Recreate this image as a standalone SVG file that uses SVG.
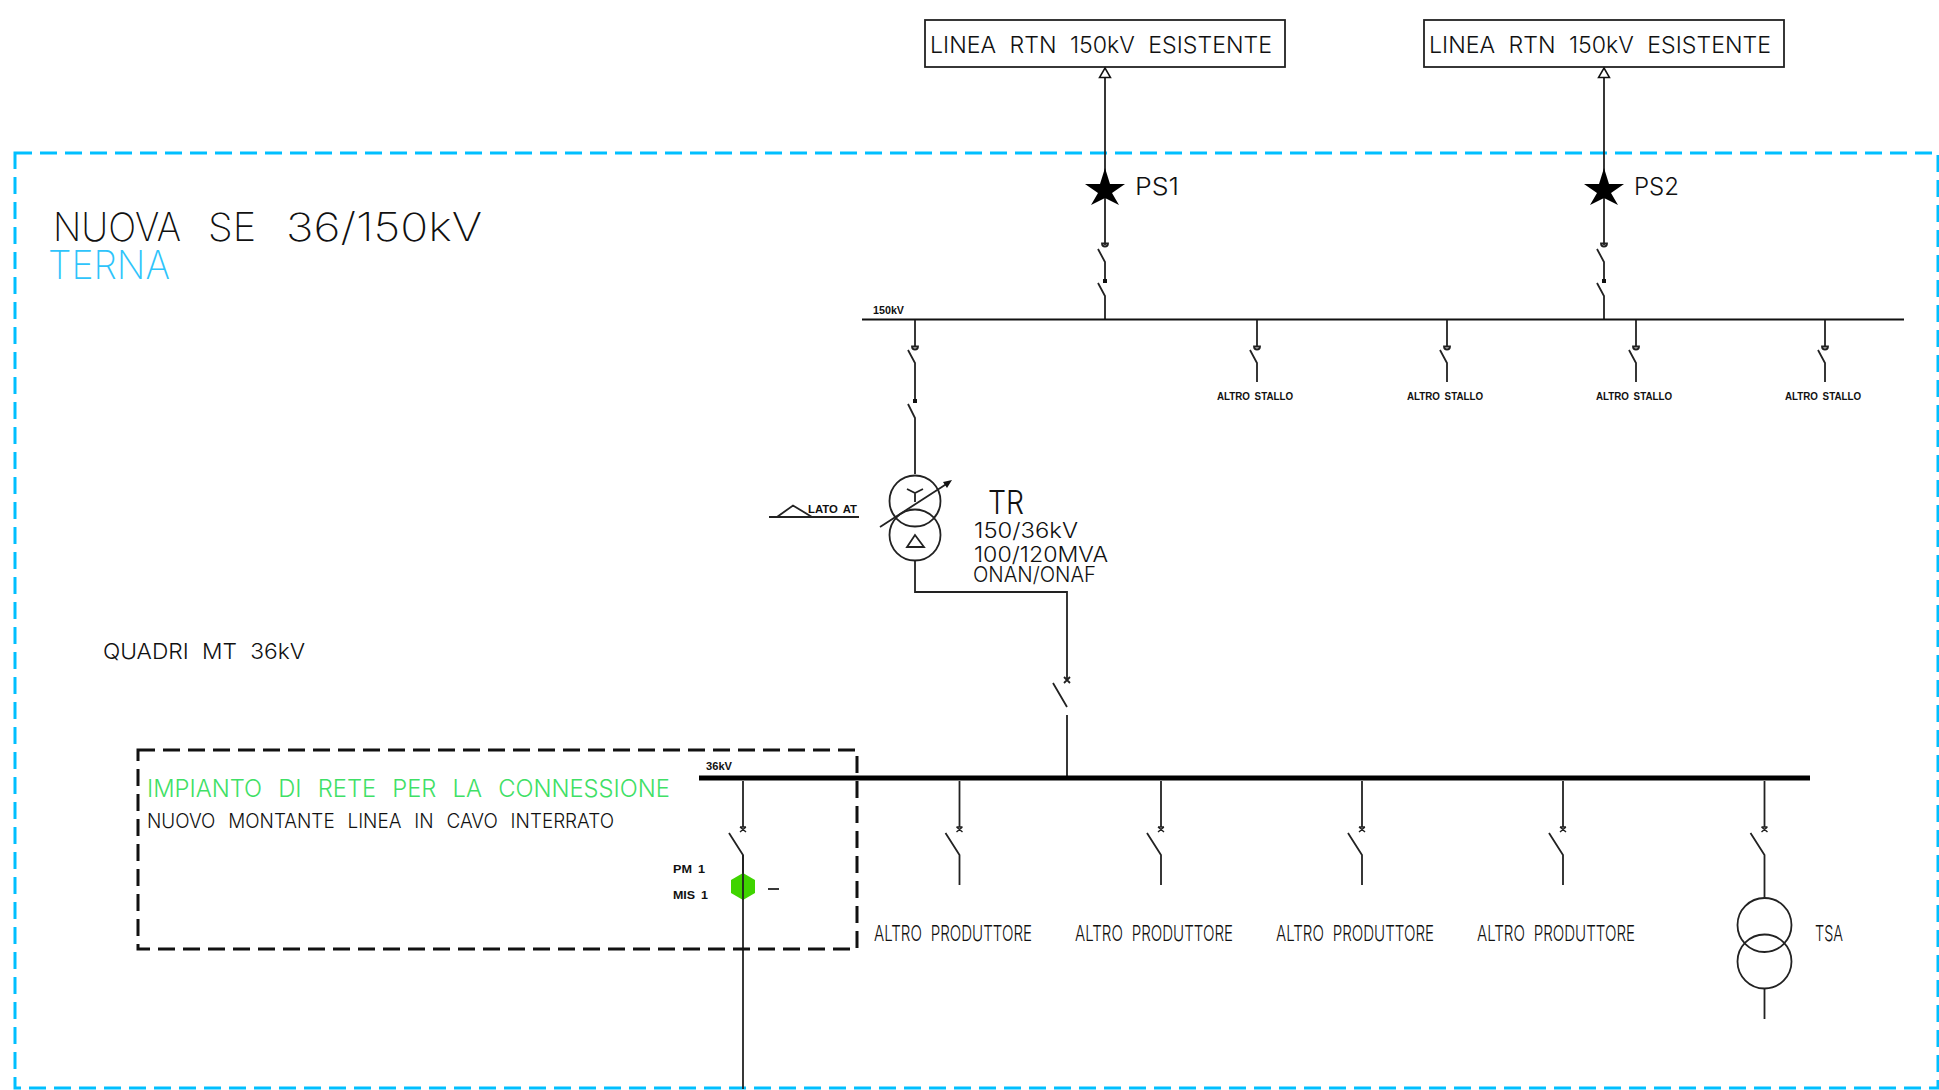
<svg xmlns="http://www.w3.org/2000/svg" width="1939" height="1090" viewBox="0 0 1939 1090">
<style>
text{font-family:Inter,"Open Sans","Liberation Sans",sans-serif;font-weight:300;fill:#111;word-spacing:.3em}
.s{font-family:"Liberation Sans",sans-serif;font-weight:700;font-size:11px;word-spacing:.2em}
.t{font-weight:200;font-size:39px}
.l{fill:none;stroke:#222;stroke-width:1.8}
.d{fill:none;stroke:#00bfff;stroke-width:3;stroke-dasharray:17 8}
.k{fill:none;stroke:#111;stroke-width:3;stroke-dasharray:17 8}
</style>
<defs>
<g id="star"><polygon fill="#000" points="0,-22 5,-6 20,-6 7,3 14,15 0,8 -14,15 -7,3 -20,-6 -5,-6"/></g>
<polygon id="arrow" fill="#fff" stroke="#111" stroke-width="1.5" points="0,0 5.5,9.5 -5.500,9.5"/>
<g id="sw150" class="l"><path d="M0,0V26"/><path d="M-3,26.500h6a3,3 0 0 1 -6,0z"/><path d="M-7,30L0,43V62"/></g>
<g id="sw36" class="l"><path d="M0,0V46"/><path d="M-3,46L3,51M3,46L-3,51M-3,46H3" stroke-width="1.500"/><path d="M-14,52L0,74V104"/></g>
</defs>

<rect id="terna-boundary" class="d" x="15" y="153" width="1923" height="935"/>

<g id="connectors">
<path class="l" d="M1105,78V245M1098,249L1105,262V281M1098,283L1105,296V320"/>
<path d="M1102,243.500h6a3,3 0 0 1 -6,0z" class="l"/>
<path d="M1103,279h4v4h-4z" fill="#111"/>
<path class="l" d="M1604,78V245M1597,249L1604,262V281M1597,283L1604,296V320"/>
<path d="M1601,243.500h6a3,3 0 0 1 -6,0z" class="l"/>
<path d="M1602,279h4v4h-4z" fill="#111"/>
<path d="M862,319.500H1904" fill="none" stroke="#111" stroke-width="2"/>
<use href="#sw150" x="915" y="320"/>
<path class="l" d="M915,382V401M908,404L915,418V474"/>
<path d="M913,399h4v4h-4z" fill="#111"/>
<path class="l" d="M915,561V592H1067V680"/>
<path d="M1064,677l6,6m0,-6l-6,6" class="l"/>
<path class="l" d="M1053,683L1067,707M1067,715V778"/>
<path d="M699,778H1810" fill="none" stroke="#000" stroke-width="5"/>
<path class="l" d="M1764.500,885V898M1764.500,989V1019"/>
<path class="l" d="M743,855V1089"/>
</g>

<g id="line-1"><rect class="l" x="925" y="20" width="360" height="47"/><text x="930" y="53" font-size="22.500" textLength="342" lengthAdjust="spacingAndGlyphs">LINEA RTN 150kV ESISTENTE</text><use href="#arrow" x="1105" y="68"/></g>
<g id="line-2"><rect class="l" x="1424" y="20" width="360" height="47"/><text x="1429" y="53" font-size="22.500" textLength="342" lengthAdjust="spacingAndGlyphs">LINEA RTN 150kV ESISTENTE</text><use href="#arrow" x="1604" y="68"/></g>
<g id="ps1"><use href="#star" x="1105" y="190"/><text x="1135" y="195" font-size="24" textLength="44" lengthAdjust="spacingAndGlyphs">PS1</text></g>
<g id="ps2"><use href="#star" x="1604" y="190"/><text x="1634" y="195" font-size="24" textLength="45" lengthAdjust="spacingAndGlyphs">PS2</text></g>

<g id="titles">
<text class="t" y="241"><tspan x="53" textLength="128" lengthAdjust="spacingAndGlyphs">NUOVA</tspan> <tspan x="208" textLength="48" lengthAdjust="spacingAndGlyphs">SE</tspan> <tspan x="286" textLength="196" lengthAdjust="spacingAndGlyphs">36/150kV</tspan></text>
<text class="t" x="48" y="279" textLength="122" lengthAdjust="spacingAndGlyphs" style="fill:#2ec4fb">TERNA</text>
<text x="103" y="659" font-size="22" textLength="202" lengthAdjust="spacingAndGlyphs">QUADRI MT 36kV</text>
<text class="s" x="873" y="314" textLength="31" lengthAdjust="spacingAndGlyphs">150kV</text>
<text class="s" x="706" y="770" textLength="26" lengthAdjust="spacingAndGlyphs">36kV</text>
</g>

<g id="stallo-1"><use href="#sw150" x="1257" y="320"/><text class="s" x="1217" y="400" textLength="76" lengthAdjust="spacingAndGlyphs">ALTRO STALLO</text></g>
<g id="stallo-2"><use href="#sw150" x="1447" y="320"/><text class="s" x="1407" y="400" textLength="76" lengthAdjust="spacingAndGlyphs">ALTRO STALLO</text></g>
<g id="stallo-3"><use href="#sw150" x="1636" y="320"/><text class="s" x="1596" y="400" textLength="76" lengthAdjust="spacingAndGlyphs">ALTRO STALLO</text></g>
<g id="stallo-4"><use href="#sw150" x="1825" y="320"/><text class="s" x="1785" y="400" textLength="76" lengthAdjust="spacingAndGlyphs">ALTRO STALLO</text></g>

<g id="lato-at">
<path class="l" d="M769,517H859M777,517L793,505.500L812,517"/>
<text class="s" x="808" y="513" textLength="49" lengthAdjust="spacingAndGlyphs">LATO AT</text>
</g>

<g id="tr">
<circle class="l" cx="915" cy="501" r="25.500"/><circle class="l" cx="915" cy="535" r="25.500"/>
<path class="l" d="M907,489L915,493L923,489M915,493V502M907,547H924L915,535z"/>
<path class="l" d="M880,527L948,483"/><polygon fill="#111" points="952,480 943,482 947,488"/>
<text x="988" y="514" font-size="32" textLength="36" lengthAdjust="spacingAndGlyphs">TR</text>
<text x="974" y="538" font-size="21" textLength="104" lengthAdjust="spacingAndGlyphs">150/36kV</text>
<text x="974" y="562" font-size="21" textLength="134" lengthAdjust="spacingAndGlyphs">100/120MVA</text>
<text x="973" y="582" font-size="21" textLength="123" lengthAdjust="spacingAndGlyphs">ONAN/ONAF</text>
</g>

<g id="impianto">
<rect class="k" x="138" y="750" width="719" height="199"/>
<text x="147" y="797" font-size="24" textLength="523" lengthAdjust="spacingAndGlyphs" style="fill:#3fe066;word-spacing:.4em">IMPIANTO DI RETE PER LA CONNESSIONE</text>
<text x="147" y="828" font-size="20" textLength="467" lengthAdjust="spacingAndGlyphs" style="word-spacing:.4em">NUOVO MONTANTE LINEA IN CAVO INTERRATO</text>
</g>

<g id="montante">
<use href="#sw36" x="743" y="781"/>
<polygon fill="#3fd400" points="743,873 755,880 755,893 743,900 731,893 731,880"/>
<path class="l" d="M743,855V900"/>
<path class="l" d="M768,889H779"/>
<text class="s" x="673" y="873" textLength="32" lengthAdjust="spacingAndGlyphs">PM 1</text>
<text class="s" x="673" y="899" textLength="35" lengthAdjust="spacingAndGlyphs">MIS 1</text>
</g>

<g id="prod-1"><use href="#sw36" x="959.500" y="781"/><text x="874" y="941" font-size="22" textLength="158" lengthAdjust="spacingAndGlyphs">ALTRO PRODUTTORE</text></g>
<g id="prod-2"><use href="#sw36" x="1161" y="781"/><text x="1075" y="941" font-size="22" textLength="158" lengthAdjust="spacingAndGlyphs">ALTRO PRODUTTORE</text></g>
<g id="prod-3"><use href="#sw36" x="1362" y="781"/><text x="1276" y="941" font-size="22" textLength="158" lengthAdjust="spacingAndGlyphs">ALTRO PRODUTTORE</text></g>
<g id="prod-4"><use href="#sw36" x="1563" y="781"/><text x="1477" y="941" font-size="22" textLength="158" lengthAdjust="spacingAndGlyphs">ALTRO PRODUTTORE</text></g>

<g id="tsa">
<use href="#sw36" x="1764.500" y="781"/>
<circle class="l" cx="1764.500" cy="925" r="27"/><circle class="l" cx="1764.500" cy="961.500" r="27"/>
<text x="1815" y="941" font-size="22" textLength="28" lengthAdjust="spacingAndGlyphs">TSA</text>
</g>
</svg>
